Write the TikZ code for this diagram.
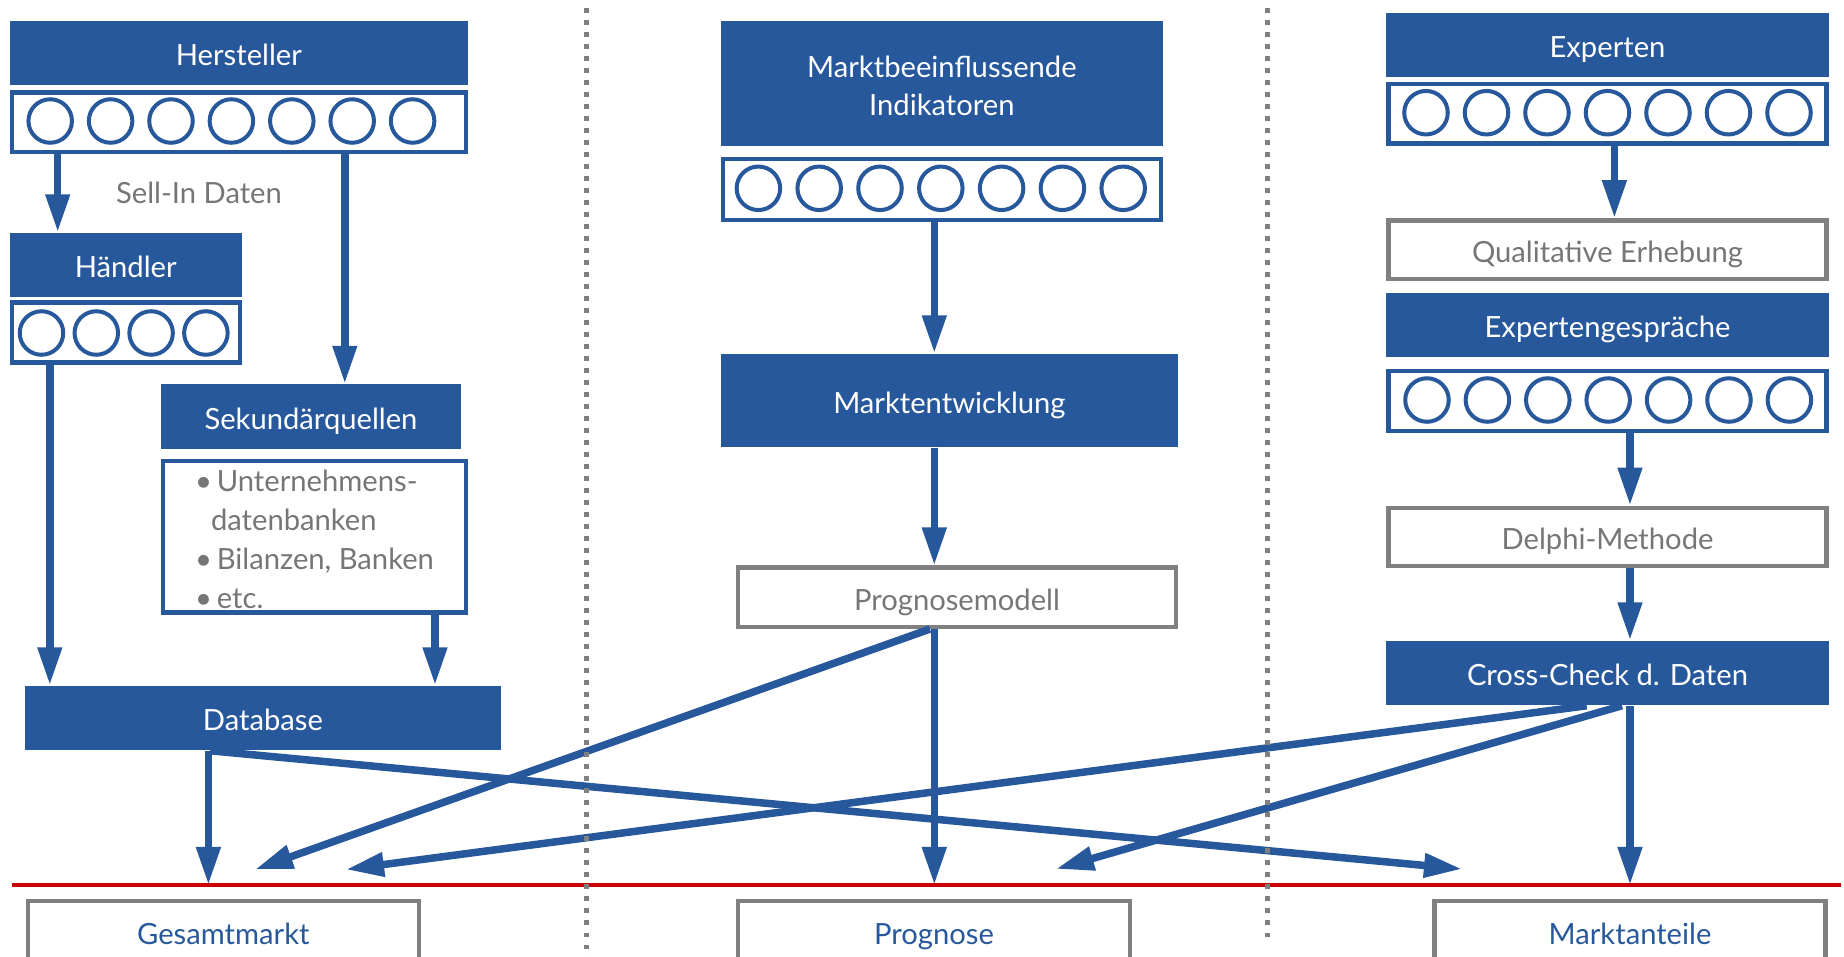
\documentclass[tikz,border=0pt]{standalone}
\usepackage{fontspec}
\setmainfont{Lato}
\usetikzlibrary{arrows.meta,positioning,calc}
\definecolor{mblue}{RGB}{39,88,155}
\definecolor{mgray}{RGB}{128,128,128}
\definecolor{mtext}{RGB}{118,118,118}
\definecolor{mred}{RGB}{204,0,0}

\begin{document}
\begin{tikzpicture}[x=0.01cm,y=-0.01cm,
  every node/.style={inner sep=0pt,font=\fontsize{8.3}{11}\selectfont},
  capc/.style={text height=7.3pt,text depth=0pt},
  bluebase/.style={fill=mblue,text=white},
  bluebox/.style={bluebase,capc,minimum width=4.422cm,minimum height=0.64cm},
  dotrow/.style={draw=mblue,line width=0.043cm,fill=white,minimum width=4.379cm,minimum height=0.597cm},
  ring/.style={circle,draw=mblue,line width=0.04cm,minimum size=0.435cm},
  grbox/.style={draw=mgray,line width=0.043cm,text=mtext,capc,minimum width=4.379cm,minimum height=0.585cm},
  outbox/.style={draw=mgray,line width=0.043cm,text=mblue,capc,minimum width=3.91cm,minimum height=0.62cm},
  arr/.style={mblue,line width=0.075cm,-{Triangle[length=0.38cm,width=0.23cm]}},
  divider/.style={draw=mgray,line width=0.05cm,dash pattern=on 0.045cm off 0.075cm}]

\clip (0,0) rectangle (1844,957);

% Hersteller / Haendler / Sekundaerquellen
\node[bluebox,minimum width=4.58cm](herst) at (238.9,53) {Hersteller};
\node[dotrow,minimum width=4.537cm](hrow) at (239,122.4) {};
\foreach \i in {0,...,6} \node[ring](hc\i) at (50.2+60.4*\i,121) {};
\node[text=mtext,capc](sellin) at (199,191) {Sell-In Daten};
\node[bluebox,minimum width=2.317cm](haend) at (125.75,265) {Händler};
\node[dotrow,minimum width=2.277cm](hdrow) at (126,332.5) {};
\foreach \i in {0,...,3} \node[ring](hdc\i) at (41.5+54.8*\i,333) {};
\node[bluebox,minimum width=3cm](sek) at (311,416.5) {Sekundärquellen};
\node[dotrow,minimum width=3.027cm,minimum height=1.512cm,align=left,text=mtext,
      font=\fontsize{8.3}{11.04}\selectfont](quellen) at (314.5,536.75)
      {\rule{0pt}{7.6pt}\textbullet\,Unternehmens-\\\hspace*{0.16cm}datenbanken\\\textbullet\,Bilanzen, Banken\\\textbullet\,etc.};
\node[bluebox,minimum width=4.76cm](db) at (263,718) {Database};
\node[outbox](gesamt) at (223.35,932) {Gesamtmarkt};

% Indikatoren
\node[bluebase,minimum width=4.422cm,minimum height=1.247cm,align=center,
      font=\fontsize{8.3}{10.95}\selectfont](indik) at (941.9,83.35) {\rule{0pt}{7.6pt}Marktbeeinflussende\\Indikatoren};
\node[dotrow,minimum height=0.607cm](irow) at (941.9,189.5) {};
\foreach \i in {0,...,6} \node[ring](ic\i) at (758.4+60.8*\i,188.3) {};
\node[bluebox,minimum width=4.572cm,minimum height=0.93cm](entw) at (949.4,400.5) {Marktentwicklung};
\node[grbox,minimum height=0.592cm](modell) at (957,597.25) {Prognosemodell};
\node[outbox,minimum width=3.918cm](prog) at (934,932) {Prognose};

% Experten
\node[bluebox](exp) at (1607.5,44.7) {Experten};
\node[dotrow](erow) at (1607.5,113.7) {};
\foreach \i in {0,...,6} \node[ring](ec\i) at (1426+60.5*\i,112.7) {};
\node[grbox](quali) at (1607.5,249.65) {Qualitative Erhebung};
\node[bluebox](gespr) at (1607.5,325) {Expertengespräche};
\node[dotrow](grow) at (1607.5,400.85) {};
\foreach \i in {0,...,6} \node[ring](gc\i) at (1427+60.4*\i,400) {};
\node[grbox](delphi) at (1607.5,537) {Delphi-Methode};
\node[bluebox](check) at (1607.5,673) {Cross-Check d. Daten};
\node[outbox](anteile) at (1630,932) {Marktanteile};

% base line and arrow ends
\coordinate (rl) at (12,885);
\coordinate (rr) at (1841,885);
\coordinate (gin1) at (255,869.5);
\coordinate (gin2) at (346,869.5);
\coordinate (pin) at (1056,869);
\coordinate (ain) at (1462,869);
\draw[mred,line width=0.037cm] (rl) -- (rr);

\path[arr]
  (hrow.south -| 57.7,0) edge (haend.north -| 57.7,0)
  (hrow.south -| 344.8,0) edge (sek.north -| 344.8,0)
  (hdrow.south -| 49.8,0) edge (db.north -| 49.8,0)
  (quellen.south -| 435,0) edge (db.north -| 435,0)
  (db.south -| 208.4,0) edge (rl -| 208.4,0)
  (db.south -| 210,0) edge (ain)
  (irow.south -| 934.3,0) edge (entw.north -| 934.3,0)
  (entw.south -| 934.3,0) edge (modell.north -| 934.3,0)
  (modell.south -| 934.3,0) edge (rl -| 934.3,0)
  (modell.south -| 930,0) edge (gin1)
  (erow.south -| 1614.4,0) edge (quali.north -| 1614.4,0)
  (grow.south -| 1630,0) edge (delphi.north -| 1630,0)
  (delphi.south -| 1630,0) edge (check.north -| 1630,0)
  (check.south -| 1630,0) edge (rl -| 1630,0)
  (check.south -| 1586.7,0) edge (gin2)
  (check.south -| 1622,0) edge (pin);

% column separators
\draw[divider] (586.4,8) -- (586.4,957);
\draw[divider] (1267,8) -- (1267,944);
\end{tikzpicture}
\end{document}
